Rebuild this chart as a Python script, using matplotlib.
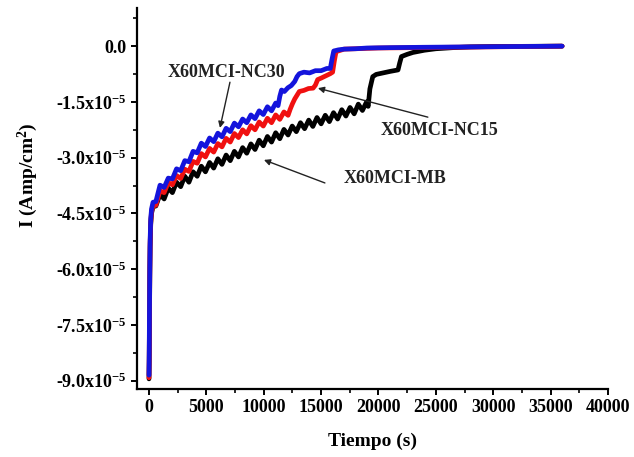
import numpy as np
import matplotlib
matplotlib.use("Agg")
import matplotlib.pyplot as plt
from matplotlib.ticker import FixedLocator, MultipleLocator, FuncFormatter

plt.rcParams["font.family"] = ["Liberation Serif", "DejaVu Serif"]
plt.rcParams["font.weight"] = "bold"
plt.rcParams["mathtext.fontset"] = "custom"
plt.rcParams["mathtext.rm"] = "Liberation Serif:bold"
plt.rcParams["mathtext.it"] = "Liberation Serif:bold"
plt.rcParams["mathtext.bf"] = "Liberation Serif:bold"
plt.rcParams["mathtext.default"] = "rm"

# Current density I in units of 1e-5 A/cm^2, time in seconds.
# The periodic region of each record is sampled every 360 s from 600 s.
OSC_T0, OSC_DT = 600, 360
SCALE = 1e-5

# --- X60MCI-MB (black) ---
mb_t_start = [0, 20, 40, 70, 100, 150, 220, 350]
mb_i_start = [-8.95, -8.5, -7.5, -6.2, -5.4, -4.8, -4.5, -4.32]
mb_i_osc = [-4.30, -3.99, -4.11, -3.82, -3.94, -3.66, -3.78, -3.50, -3.66, -3.38,
            -3.50, -3.23, -3.38, -3.13, -3.28, -3.03, -3.18, -2.93, -3.08, -2.83,
            -2.98, -2.73, -2.88, -2.63, -2.78, -2.53, -2.68, -2.43, -2.58, -2.33,
            -2.49, -2.24, -2.39, -2.15, -2.30, -2.06, -2.22, -1.99, -2.16, -1.92,
            -2.09, -1.86, -2.03, -1.79, -1.96, -1.71, -1.88, -1.65, -1.82, -1.56,
            -1.73, -1.50]
mb_t_end = [19100, 19250, 19400, 19500, 19800, 20400, 21000, 21700, 21850, 22000,
            22500, 23000, 24000, 25000, 26500, 28000, 30000, 36000]
mb_i_end = [-1.62, -1.15, -0.95, -0.82, -0.76, -0.72, -0.68, -0.64, -0.45, -0.28,
            -0.22, -0.17, -0.11, -0.07, -0.04, -0.02, -0.01, 0.0]

# --- X60MCI-NC15 (red) ---
nc15_t_start = [0, 20, 40, 70, 100, 150, 220, 350]
nc15_i_start = [-8.92, -8.4, -7.4, -6.1, -5.3, -4.75, -4.45, -4.3]
nc15_i_osc = [-4.28, -3.89, -3.94, -3.67, -3.73, -3.48, -3.56, -3.31, -3.37, -3.10,
              -3.15, -2.89, -2.98, -2.75, -2.85, -2.62, -2.71, -2.48, -2.58, -2.35,
              -2.46, -2.25, -2.36, -2.14, -2.25, -2.04, -2.15, -1.94, -2.06, -1.85,
              -1.97, -1.77, -1.86]
nc15_t_end = [12300, 12500, 12700, 12900, 13100, 13500, 13900, 14300, 14500, 14700,
              15000, 15400, 15800, 16000, 16150, 16300, 17000, 20000, 36000]
nc15_i_end = [-1.70, -1.55, -1.42, -1.32, -1.22, -1.19, -1.14, -1.13, -1.05, -0.90,
              -0.86, -0.80, -0.74, -0.70, -0.40, -0.15, -0.08, -0.05, 0.0]

# --- X60MCI-NC30 (blue) ---
nc30_t_start = [0, 20, 40, 70, 100, 150, 220, 350]
nc30_i_start = [-8.85, -8.2, -7.2, -6.0, -5.2, -4.65, -4.38, -4.2]
nc30_i_osc = [-4.18, -3.74, -3.80, -3.55, -3.57, -3.30, -3.35, -3.08, -3.11, -2.83,
              -2.87, -2.61, -2.70, -2.47, -2.57, -2.34, -2.44, -2.21, -2.30, -2.07,
              -2.17, -1.96, -2.06, -1.85, -1.95, -1.74, -1.84, -1.63, -1.74, -1.53]
nc30_t_end = [11250, 11400, 11550, 11800, 12100, 12400, 12700, 12900, 13100, 13500,
              14000, 14500, 15000, 15500, 15800, 15950, 16100, 16500, 17000, 18000,
              19000, 21000, 24000, 28000, 32000, 36000]
nc30_i_end = [-1.60, -1.35, -1.18, -1.22, -1.12, -1.06, -0.95, -0.82, -0.74, -0.70,
              -0.72, -0.66, -0.66, -0.60, -0.60, -0.35, -0.13, -0.10, -0.08, -0.07,
              -0.05, -0.04, -0.03, -0.02, -0.01, 0.0]

series = [
    ("X60MCI-MB", "black", mb_t_start, mb_i_start, mb_i_osc, mb_t_end, mb_i_end),
    ("X60MCI-NC15", "#f01010", nc15_t_start, nc15_i_start, nc15_i_osc, nc15_t_end, nc15_i_end),
    ("X60MCI-NC30", "#1414dc", nc30_t_start, nc30_i_start, nc30_i_osc, nc30_t_end, nc30_i_end),
]

x_ticks = [0, 5000, 10000, 15000, 20000, 25000, 30000, 35000, 40000]
y_ticks = [0.0, -1.5, -3.0, -4.5, -6.0, -7.5, -9.0]

fig = plt.figure(figsize=(6.34, 4.57), dpi=100)
ax = fig.add_axes([0.216, 0.149, 0.743, 0.833])

for name, color, t0, i0, iosc, t1, i1 in series:
    t_osc = OSC_T0 + OSC_DT * np.arange(len(iosc))
    t = np.concatenate([t0, t_osc, t1])
    i = np.concatenate([i0, iosc, i1]) * SCALE
    ax.plot(t, i, color=color, lw=3.4, solid_joinstyle="round",
            solid_capstyle="round", label=name)

ax.set_xlim(-1050, 40000)
ax.set_ylim(-9.22 * SCALE, 1.02 * SCALE)

ax.xaxis.set_major_locator(FixedLocator(x_ticks))
ax.xaxis.set_minor_locator(MultipleLocator(2500))
ax.yaxis.set_major_locator(FixedLocator([v * SCALE for v in y_ticks]))
ax.yaxis.set_minor_locator(MultipleLocator(0.75 * SCALE))


def y_fmt(v, pos):
    m = v / SCALE
    if abs(m) < 1e-9:
        return "0.0"
    return "%.1fx10$^{-5}$" % m


ax.yaxis.set_major_formatter(FuncFormatter(y_fmt))
ax.xaxis.set_major_formatter(FuncFormatter(lambda v, p: "%d" % v))

for s in ("top", "right"):
    ax.spines[s].set_visible(False)
for s in ("left", "bottom"):
    ax.spines[s].set_linewidth(1.6)

ax.tick_params(which="major", direction="out", length=4.5, width=1.4,
               labelsize=13, pad=3)
ax.tick_params(which="minor", direction="out", length=3, width=1.2)
for lbl in ax.get_xticklabels() + ax.get_yticklabels():
    lbl.set_fontweight("bold")

ax.set_xlabel("Tiempo (s)", fontsize=14, fontweight="bold", labelpad=12)
ax.set_ylabel("I (Amp/cm$^{2}$)", fontsize=14, fontweight="bold")
ax.yaxis.set_label_coords(-0.205, 0.562)

arrow = dict(arrowstyle="-|>", color="#222222", lw=1.0, mutation_scale=9,
             shrinkA=0, shrinkB=0)
txt = dict(fontsize=13, fontweight="bold", color="#222222",
           ha="center", va="center")

ax.annotate("", xy=(6184, -2.20 * SCALE), xytext=(7055, -0.97 * SCALE),
            arrowprops=arrow)
ax.text(6794, -0.70 * SCALE, "X60MCI-NC30", **txt)

ax.annotate("", xy=(14720, -1.13 * SCALE), xytext=(24301, -1.91 * SCALE),
            arrowprops=arrow)
ax.text(25346, -2.26 * SCALE, "X60MCI-NC15", **txt)

ax.annotate("", xy=(10017, -3.06 * SCALE), xytext=(15330, -3.68 * SCALE),
            arrowprops=arrow)
ax.text(21427, -3.55 * SCALE, "X60MCI-MB", **txt)

fig.savefig("out.png", dpi=100)
